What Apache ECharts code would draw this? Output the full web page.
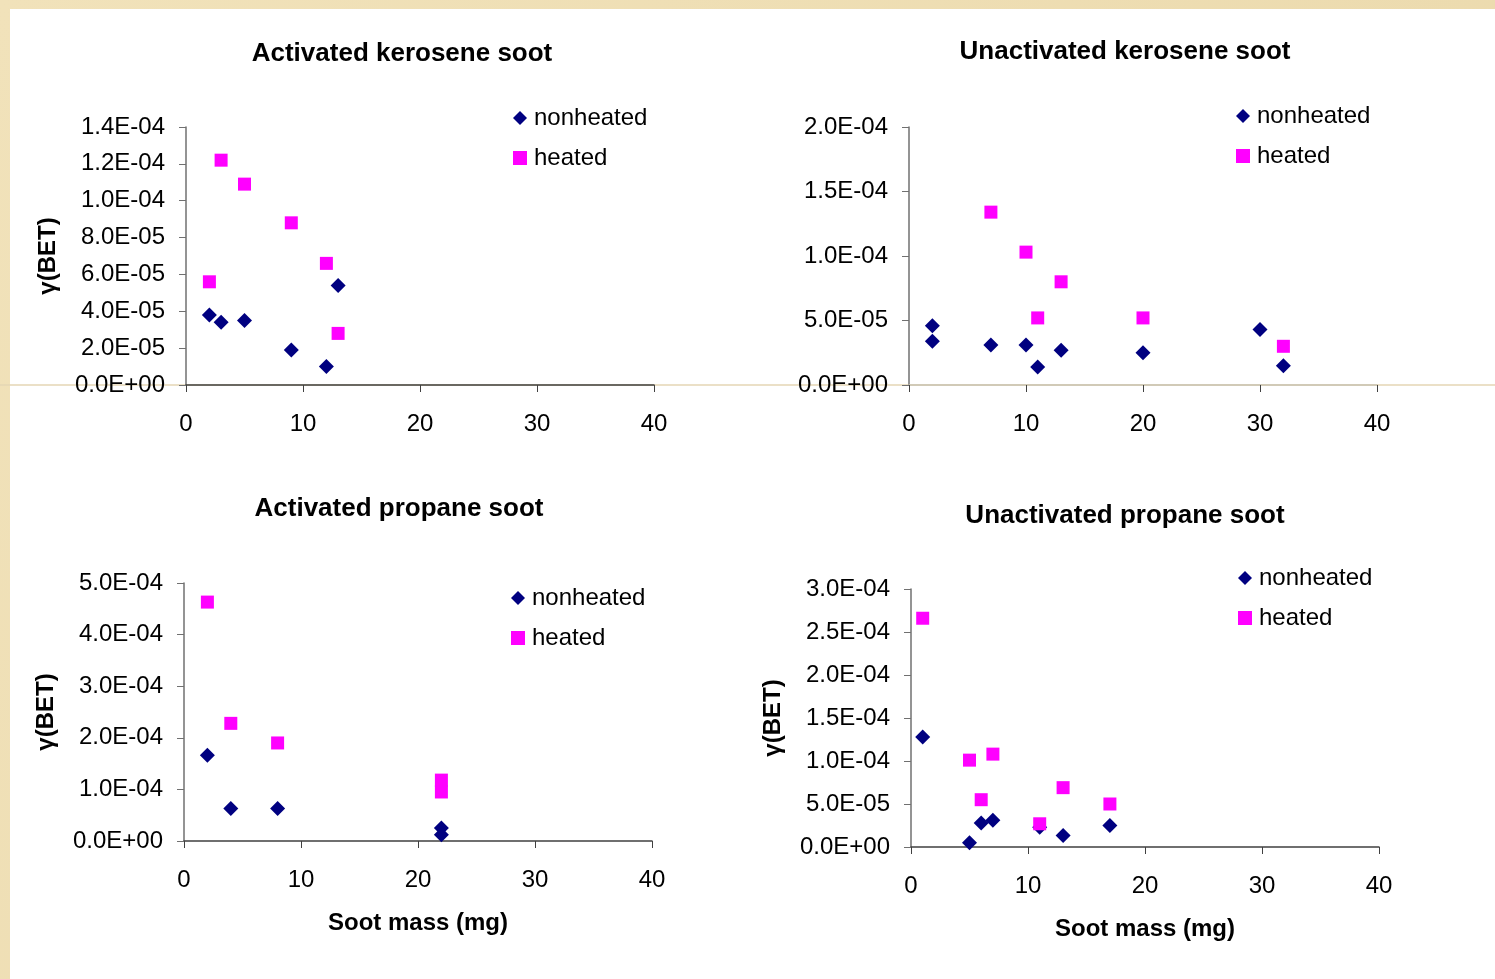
<!DOCTYPE html>
<html>
<head>
<meta charset="utf-8">
<script src="https://cdn.jsdelivr.net/npm/echarts@6/dist/echarts.min.js"></script>
<style>
  html, body { margin: 0; padding: 0; }
  #main { width: 1495px; height: 979px; }
</style>
</head>
<body>
<div id="main"></div>
<script>
// soot mass (mg) and gamma(BET)
const akMassNon = [2, 3, 5, 9, 12, 13];
const akGammaNon = [3.8e-5, 3.4e-5, 3.5e-5, 1.9e-5, 1.0e-5, 5.4e-5];
const akMassHeat = [2, 3, 5, 9, 12, 13];
const akGammaHeat = [5.6e-5, 12.2e-5, 10.9e-5, 8.8e-5, 6.6e-5, 2.8e-5];

const ukMassNon = [2, 2, 7, 10, 11, 13, 20, 30, 32];
const ukGammaNon = [4.6e-5, 3.4e-5, 3.1e-5, 3.1e-5, 1.4e-5, 2.7e-5, 2.5e-5, 4.3e-5, 1.5e-5];
const ukMassHeat = [7, 10, 11, 13, 20, 32];
const ukGammaHeat = [13.4e-5, 10.3e-5, 5.2e-5, 8.0e-5, 5.2e-5, 3.0e-5];

const apMassNon = [2, 4, 8, 22, 22];
const apGammaNon = [1.66e-4, 0.63e-4, 0.63e-4, 0.25e-4, 0.12e-4];
const apMassHeat = [2, 4, 8, 22, 22];
const apGammaHeat = [4.63e-4, 2.28e-4, 1.9e-4, 1.18e-4, 0.95e-4];

const upMassNon = [1, 5, 6, 7, 11, 13, 17];
const upGammaNon = [12.8e-5, 0.5e-5, 2.8e-5, 3.1e-5, 2.3e-5, 1.35e-5, 2.5e-5];
const upMassHeat = [1, 5, 6, 7, 11, 13, 17];
const upGammaHeat = [26.6e-5, 10.1e-5, 5.5e-5, 10.8e-5, 2.7e-5, 6.9e-5, 5.0e-5];

const titles = ["Activated kerosene soot", "Unactivated kerosene soot", "Activated propane soot", "Unactivated propane soot"];
const yMax = [1.4e-4, 2.0e-4, 5.0e-4, 3.0e-4];
const yStep = [2e-5, 5e-5, 1e-4, 5e-5];

const font = "Liberation Sans, Arial, sans-serif";

const pairs = (xs, ys) => xs.map((x, i) => [x, ys[i]]);

// 1.4E-04 style labels
const sci = (v) => {
    if (Math.abs(v) < 1e-12) return "0.0E+00";
    const [m, e] = v.toExponential(1).split("e");
    const n = parseInt(e, 10);
    return m + "E" + (n < 0 ? "-" : "+") + String(Math.abs(n)).padStart(2, "0");
};

const grids = [
    { left: 186, top: 127, width: 468, height: 258 },
    { left: 909, top: 127, width: 468, height: 258 },
    { left: 184, top: 583, width: 468, height: 258 },
    { left: 911, top: 589, width: 468, height: 258 },
];
const titlePos = [[397, 36], [1120, 34], [394, 491], [1120, 498]];
const legendPos = [[508, 101], [1231, 99], [506, 581], [1233, 561]];
const yNames = ["γ(BET)", "", "γ(BET)", "γ(BET)"];
const xNames = ["", "", "Soot mass (mg)", "Soot mass (mg)"];

const seriesData = [
    [pairs(akMassNon, akGammaNon), pairs(akMassHeat, akGammaHeat)],
    [pairs(ukMassNon, ukGammaNon), pairs(ukMassHeat, ukGammaHeat)],
    [pairs(apMassNon, apGammaNon), pairs(apMassHeat, apGammaHeat)],
    [pairs(upMassNon, upGammaNon), pairs(upMassHeat, upGammaHeat)],
];

const option = {
    backgroundColor: new echarts.graphic.LinearGradient(0, 0, 1, 1, [
        { offset: 0, color: "#f1e2ba" },
        { offset: 1, color: "#ead8aa" },
    ]),
    animation: false,
    graphic: [
        { type: "rect", z: -10, shape: { x: 10, y: 9, width: 1485, height: 970 }, style: { fill: "#ffffff" } },
        { type: "line", z: -9, shape: { x1: 0, y1: 385, x2: 1495, y2: 385 }, style: { stroke: "#e4d6b4", lineWidth: 1.5 } },
    ],
    title: titles.map((t, i) => ({
        text: t,
        left: titlePos[i][0],
        top: titlePos[i][1],
        textAlign: "center",
        textStyle: { fontFamily: font, fontSize: 26, fontWeight: "bold", color: "#000" },
    })),
    legend: legendPos.map((p, i) => ({
        left: p[0],
        top: p[1],
        orient: "vertical",
        itemGap: 16,
        itemWidth: 14,
        itemHeight: 14,
        data: [{ name: "nonheated", icon: "diamond" }, { name: "heated", icon: "rect" }],
        textStyle: { fontFamily: font, fontSize: 24, color: "#000", padding: [0, 0, 0, 2] },
        selectedMode: false,
    })),
    grid: grids,
    xAxis: grids.map((g, i) => ({
        gridIndex: i,
        type: "value",
        min: 0,
        max: 40,
        interval: 10,
        name: xNames[i],
        nameLocation: "middle",
        nameGap: 70,
        nameTextStyle: { fontFamily: font, fontSize: 24, fontWeight: "bold", color: "#000" },
        axisLine: { lineStyle: { color: i === 1 ? "#c9c2b2" : "#404040", width: 1.5 } },
        axisTick: { show: true, inside: false, length: 7, lineStyle: { color: "#404040" } },
        axisLabel: { margin: 27, fontFamily: font, fontSize: 24, color: "#000" },
        splitLine: { show: false },
    })),
    yAxis: grids.map((g, i) => ({
        gridIndex: i,
        type: "value",
        min: 0,
        max: yMax[i],
        interval: yStep[i],
        name: yNames[i],
        nameLocation: "middle",
        nameGap: 126,
        nameTextStyle: { fontFamily: font, fontSize: 24, fontWeight: "bold", color: "#000" },
        axisLine: { show: true, lineStyle: { color: "#707070", width: 1.5 } },
        axisTick: { show: true, inside: false, length: 7, lineStyle: { color: "#707070" } },
        axisLabel: { margin: 21, fontFamily: font, fontSize: 24, color: "#000", formatter: sci },
        splitLine: { show: false },
    })),
    series: seriesData.flatMap((d, i) => [
        {
            name: "nonheated",
            type: "scatter",
            xAxisIndex: i,
            yAxisIndex: i,
            symbol: "diamond",
            symbolSize: 15,
            itemStyle: { color: "#000080", opacity: 1 },
            data: d[0],
        },
        {
            name: "heated",
            type: "scatter",
            xAxisIndex: i,
            yAxisIndex: i,
            symbol: "rect",
            symbolSize: 13,
            itemStyle: { color: "#ff00ff", opacity: 1 },
            data: d[1],
        },
    ]),
};

const chart = echarts.init(document.getElementById("main"));
chart.setOption(option);
</script>
</body>
</html>
